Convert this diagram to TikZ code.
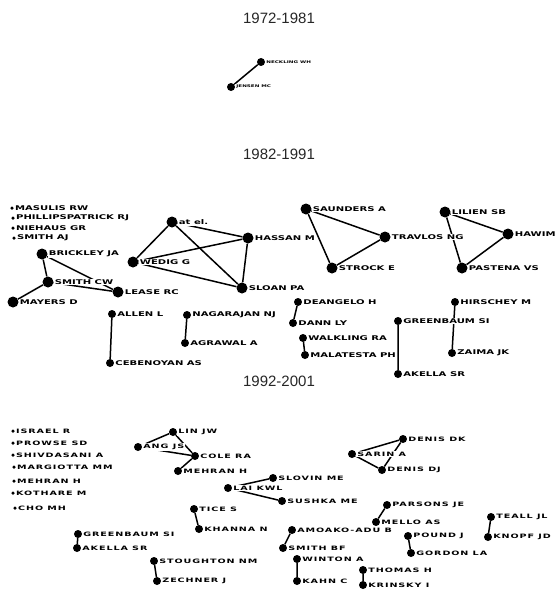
\documentclass[tikz,border=0pt]{standalone}
\usepackage{fontspec}
\setmainfont{Liberation Sans}
\newfontfamily\labfont{DejaVu Sans}[FakeStretch=1.55]
\newfontfamily\labfontw{DejaVu Sans}[FakeStretch=1.6, LetterSpace=15]
\usetikzlibrary{positioning, backgrounds}

\tikzset{
    actor/.style={circle, fill, inner sep=0pt, minimum size=11pt},
    smallactor/.style={circle, fill, inner sep=0pt, minimum size=8pt},
    loner/.style={circle, fill, inner sep=0pt, minimum size=3.5pt},
    nameA/.style={font=\labfont\bfseries\fontsize{6.5}{6.5}\selectfont, inner sep=1pt, fill=white},
    nameB/.style={font=\labfontw\bfseries\fontsize{6}{6}\selectfont, inner sep=1pt, fill=white},
    nameT/.style={font=\labfont\bfseries\fontsize{3.6}{3.6}\selectfont, inner sep=1pt, fill=white},
    period/.style={font=\fontsize{15}{15}\selectfont, text=black!85},
    tie/.style={line width=1.5pt}
}

\begin{document}
\begin{tikzpicture}[x=1pt, y=-1pt]
                    \useasboundingbox (0, 0) rectangle (558, 594);

                    % decades
                    \node[period] (P1) at (279, 18) {1972-1981};
                    \node[period] (P2) at (279, 154) {1982-1991};
                    \node[period] (P3) at (279, 381) {1992-2001};

                    % 1972-1981
                    \node[smallactor, label={[nameT]right:NECKLING WH}] (neck) at (261, 62) {};
                    \node[smallactor, label={[nameT]right:JENSEN MC}] (jens) at (231, 87) {};

                    % 1982-1991
                    \node[loner, label={[nameA]right:MASULIS RW}] (masu) at (12, 208) {};
                    \node[loner, label={[nameA]right:PHILLIPSPATRICK RJ}] (phil) at (13, 218) {};
                    \node[loner, label={[nameA]right:NIEHAUS GR}] (nieh) at (13, 228) {};
                    \node[loner, label={[nameA]right:SMITH AJ}] (smaj) at (14, 238) {};
                    \node[actor, label={[nameA]right:BRICKLEY JA}] (brick) at (42, 254) {};
                    \node[actor, label={[nameA]right:SMITH CW}] (smcw) at (48, 282) {};
                    \node[actor, label={[nameA]right:LEASE RC}] (lease) at (118, 292) {};
                    \node[actor, label={[nameA]right:MAYERS D}] (mayer) at (13, 302) {};
                    \node[actor, label={[nameA]right:at el.}] (atel) at (172, 222) {};
                    \node[actor, label={[nameA]right:WEDIG G}] (wedig) at (133, 262) {};
                    \node[actor, label={[nameA]right:HASSAN M}] (hass) at (248, 238) {};
                    \node[actor, label={[nameA]right:SLOAN PA}] (sloan) at (242, 288) {};
                    \node[actor, label={[nameA]right:SAUNDERS A}] (saund) at (306, 209) {};
                    \node[actor, label={[nameA]right:TRAVLOS NG}] (trav) at (385, 237) {};
                    \node[actor, label={[nameA]right:STROCK E}] (strock) at (332, 268) {};
                    \node[actor, label={[nameA]right:LILIEN SB}] (lili) at (445, 212) {};
                    \node[actor, label={[nameA]right:HAWIM}] (hawa) at (508, 234) {};
                    \node[actor, label={[nameA]right:PASTENA VS}] (past) at (462, 268) {};
                    \node[smallactor, label={[nameA]right:HIRSCHEY M}] (hirs) at (455, 302) {};
                    \node[smallactor, label={[nameA]right:ZAIMA JK}] (zaim) at (452, 353) {};
                    \node[smallactor, label={[nameA]right:ALLEN L}] (allen) at (112, 314) {};
                    \node[smallactor, label={[nameA]right:CEBENOYAN AS}] (cebe) at (110, 363) {};
                    \node[smallactor, label={[nameA]right:NAGARAJAN NJ}] (naga) at (187, 315) {};
                    \node[smallactor, label={[nameA]right:AGRAWAL A}] (agra) at (185, 343) {};
                    \node[smallactor, label={[nameA]right:DEANGELO H}] (deang) at (298, 302) {};
                    \node[smallactor, label={[nameA]right:DANN LY}] (dann) at (293, 323) {};
                    \node[smallactor, label={[nameA]right:WALKLING RA}] (walk) at (303, 338) {};
                    \node[smallactor, label={[nameA]right:MALATESTA PH}] (mala) at (305, 355) {};
                    \node[smallactor, label={[nameA]right:GREENBAUM SI}] (green) at (398, 321) {};
                    \node[smallactor, label={[nameA]right:AKELLA SR}] (akel) at (398, 374) {};

                    % 1992-2001
                    \node[loner, label={[nameB]right:ISRAEL R}] (isra) at (13, 431) {};
                    \node[loner, label={[nameB]right:PROWSE SD}] (prow) at (13, 443) {};
                    \node[loner, label={[nameB]right:SHIVDASANI A}] (shiv) at (13, 455) {};
                    \node[loner, label={[nameB]right:MARGIOTTA MM}] (marg) at (14, 467) {};
                    \node[loner, label={[nameB]right:MEHRAN H}] (mehrA) at (14, 481) {};
                    \node[loner, label={[nameB]right:KOTHARE M}] (koth) at (13, 493) {};
                    \node[loner, label={[nameB]right:CHO MH}] (cho) at (15, 508) {};
                    \node[smallactor, label={[nameB]right:LIN JW}] (lin) at (173, 432) {};
                    \node[smallactor, label={[nameB]right:ANG JS}] (ang) at (138, 447) {};
                    \node[smallactor, label={[nameB]right:COLE RA}] (cole) at (195, 456) {};
                    \node[smallactor, label={[nameB]right:MEHRAN H}] (mehrB) at (178, 471) {};
                    \node[smallactor, label={[nameB]right:SLOVIN ME}] (slov) at (273, 478) {};
                    \node[smallactor, label={[nameB]right:LAI KWL}] (lai) at (228, 488) {};
                    \node[smallactor, label={[nameB]right:SUSHKA ME}] (sush) at (282, 501) {};
                    \node[smallactor, label={[nameB]right:TICE S}] (tice) at (194, 509) {};
                    \node[smallactor, label={[nameB]right:KHANNA N}] (khan) at (199, 529) {};
                    \node[smallactor, label={[nameB]right:DENIS DK}] (dendk) at (403, 439) {};
                    \node[smallactor, label={[nameB]right:SARIN A}] (sarin) at (352, 454) {};
                    \node[smallactor, label={[nameB]right:DENIS DJ}] (dendj) at (382, 470) {};
                    \node[smallactor, label={[nameB]right:PARSONS JE}] (pars) at (387, 505) {};
                    \node[smallactor, label={[nameB]right:MELLO AS}] (mello) at (376, 522) {};
                    \node[smallactor, label={[nameB]right:TEALL JL}] (teall) at (491, 517) {};
                    \node[smallactor, label={[nameB]right:KNOPF JD}] (knopf) at (488, 537) {};
                    \node[smallactor, label={[nameB]right:GREENBAUM SI}] (greenB) at (78, 534) {};
                    \node[smallactor, label={[nameB]right:AKELLA SR}] (akelB) at (77, 548) {};
                    \node[smallactor, label={[nameB]right:STOUGHTON NM}] (stou) at (154, 561) {};
                    \node[smallactor, label={[nameB]right:ZECHNER J}] (zech) at (157, 581) {};
                    \node[smallactor, label={[nameB]right:AMOAKO-ADU B}] (amoa) at (292, 530) {};
                    \node[smallactor, label={[nameB]right:SMITH BF}] (smbf) at (283, 548) {};
                    \node[smallactor, label={[nameB]right:WINTON A}] (wint) at (297, 559) {};
                    \node[smallactor, label={[nameB]right:KAHN C}] (kahn) at (297, 581) {};
                    \node[smallactor, label={[nameB]right:THOMAS H}] (thom) at (363, 570) {};
                    \node[smallactor, label={[nameB]right:KRINSKY I}] (krin) at (363, 585) {};
                    \node[smallactor, label={[nameB]right:POUND J}] (pound) at (408, 536) {};
                    \node[smallactor, label={[nameB]right:GORDON LA}] (gord) at (411, 553) {};

                    \begin{scope}[on background layer]
                    \draw[tie]
                    (neck) -- (jens)
                    (brick) -- (smcw)
                    (brick) -- (lease)
                    (smcw) -- (lease)
                    (smcw) -- (mayer)
                    (atel) -- (hass)
                    (atel) -- (wedig)
                    (atel) -- (sloan)
                    (wedig) -- (hass)
                    (wedig) -- (sloan)
                    (hass) -- (sloan)
                    (saund) -- (trav)
                    (saund) -- (strock)
                    (trav) -- (strock)
                    (lili) -- (hawa)
                    (lili) -- (past)
                    (hawa) -- (past)
                    (hirs) -- (zaim)
                    (allen) -- (cebe)
                    (naga) -- (agra)
                    (deang) -- (dann)
                    (walk) -- (mala)
                    (green) -- (akel)
                    (lin) -- (ang)
                    (lin) -- (cole)
                    (ang) -- (cole)
                    (cole) -- (mehrB)
                    (slov) -- (lai)
                    (lai) -- (sush)
                    (tice) -- (khan)
                    (sarin) -- (dendk)
                    (sarin) -- (dendj)
                    (dendk) -- (dendj)
                    (pars) -- (mello)
                    (teall) -- (knopf)
                    (greenB) -- (akelB)
                    (stou) -- (zech)
                    (amoa) -- (smbf)
                    (wint) -- (kahn)
                    (thom) -- (krin)
                    (pound) -- (gord);
                    \end{scope}
                \end{tikzpicture}
\end{document}
